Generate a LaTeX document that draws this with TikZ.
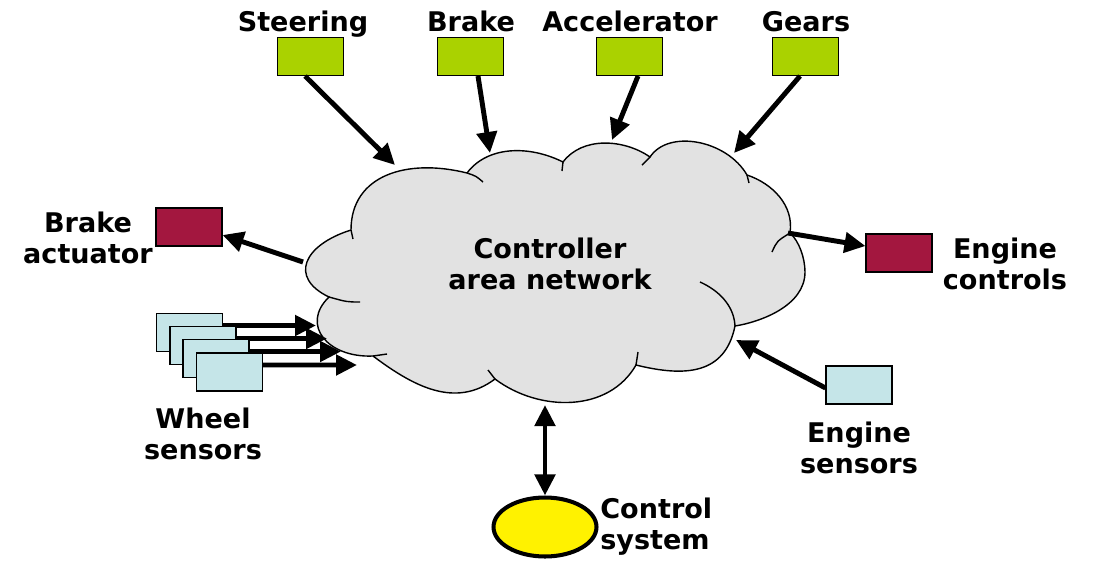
\documentclass[tikz,border=0pt]{standalone}
\usepackage{fontspec}
\setmainfont{DejaVu Sans}
\usetikzlibrary{arrows.meta,calc,shapes.geometric}
\definecolor{boxgreen}{RGB}{170,210,0}
\definecolor{boxred}{RGB}{163,23,63}
\definecolor{boxblue}{RGB}{197,229,232}
\definecolor{cloudgray}{RGB}{226,226,226}
\begin{document}
\begin{tikzpicture}[x=0.02cm,y=-0.02cm,
  lbl/.style={font=\fontsize{15.4pt}{17.6pt}\selectfont\bfseries, align=center, inner sep=0pt},
  unit/.style={draw=black, line width=0.6pt, minimum width=1.32cm, minimum height=0.76cm, inner sep=0pt},
  arr/.style={line width=2.8pt, -{Triangle[length=0.42cm,width=0.4cm]}},
  darr/.style={line width=2.8pt, {Triangle[length=0.42cm,width=0.4cm]}-{Triangle[length=0.42cm,width=0.4cm]}},
  cloudline/.style={draw=black, line width=0.8pt}
]
\useasboundingbox (0,0) rectangle (1096,562);

% cloud cusps
\coordinate (c1) at (351,230);
\coordinate (c2) at (467,173);
\coordinate (c3) at (563,162);
\coordinate (c4) at (650,157);
\coordinate (c5) at (747,175);
\coordinate (c6) at (790,233);
\coordinate (p6) at (805,272);
\coordinate (c7) at (735,326);
\coordinate (c8) at (636,365);
\coordinate (c9) at (495,379);
\coordinate (c10) at (373,356);
\coordinate (c11) at (329,297);

\draw[cloudline, fill=cloudgray]
 (c1) .. controls (351,175) and (407,158) .. (c2)
 .. controls (487.4,145.8) and (529,145) .. (c3)
 .. controls (582.2,136.4) and (623.8,138.8) .. (c4)
 .. controls (668.7,128.8) and (727,140.2) .. (c5)
 .. controls (772.2,183.4) and (794.2,205.3) .. (c6)
 .. controls (799,241) and (805,258) .. (p6)
 .. controls (805,306) and (760,322) .. (c7)
 .. controls (725,375) and (684.5,377) .. (c8)
 .. controls (608.5,412.9) and (539,412) .. (c9)
 .. controls (455,409) and (413,386) .. (c10)
 .. controls (328,358) and (300,325) .. (c11)
 .. controls (288.5,277.6) and (303.5,245) .. (c1) -- cycle;

% inner tails of the puffs
\draw[cloudline] (353,239) -- (c1);
\draw[cloudline] (c2) .. controls (476,176) .. (483,182);
\draw[cloudline] (562,171) -- (c3);
\draw[cloudline] (642,165) -- (c4);
\draw[cloudline] (c5) -- (749,183);
\draw[cloudline] (772,252) .. controls (777,241) .. (c6);
\draw[cloudline] (700,282) .. controls (718,290) and (734,305) .. (c7);
\draw[cloudline] (638,352) -- (c8);
\draw[cloudline] (c9) -- (488,370);
\draw[cloudline] (387,354) -- (c10);
\draw[cloudline] (360,302) .. controls (347,302) .. (c11);

\node[lbl] (can) at (550,263.5) {Controller\\area network};

% arrow end points on the cloud
\coordinate (asteer) at (395,165);
\coordinate (abrake) at (490,153);
\coordinate (aacc) at (612,140);
\coordinate (agear) at (734,153);
\coordinate (abact) at (303,262);
\coordinate (aectl) at (788,233);
\coordinate (aes) at (736,340);
\coordinate (aws1) at (316,325.5);
\coordinate (aws2) at (327,338.5);
\coordinate (aws3) at (341,351.5);
\coordinate (aws4) at (357,365);
\coordinate (acs) at (545,405);

% top units
\node[unit, fill=boxgreen] (steer) at (310.5,56.5) {};
\node[unit, fill=boxgreen] (brake) at (470.5,56.5) {};
\node[unit, fill=boxgreen] (acc) at (629.5,56.5) {};
\node[unit, fill=boxgreen] (gears) at (805.5,56.5) {};
\node[lbl, anchor=base] (steerl) at (303,31) {Steering};
\node[lbl, anchor=base] (brakel) at (471,31) {Brake};
\node[lbl, anchor=base] (accl) at (630,31) {Accelerator};
\node[lbl, anchor=base] (gearsl) at (806,31) {Gears};
\draw[arr] ([xshift=-0.11cm]steer.south) -- (asteer);
\draw[arr] ([xshift=0.15cm]brake.south) -- (abrake);
\draw[arr] ([xshift=0.17cm]acc.south) -- (aacc);
\draw[arr] ([xshift=-0.11cm]gears.south) -- (agear);

% brake actuator
\node[unit, fill=boxred] (bact) at (189,227) {};
\node[lbl] (bactl) at (88,237.5) {Brake\\actuator};
\draw[arr] (abact) -- ([yshift=-0.16cm]bact.east);

% engine controls
\node[unit, fill=boxred] (ectl) at (899,253) {};
\node[lbl] (ectll) at (1005,263.5) {Engine\\controls};
\draw[arr] (aectl) -- ([yshift=0.14cm]ectl.west);

% engine sensors
\node[unit, fill=boxblue] (esens) at (859,385) {};
\node[lbl] (esensl) at (859,447.5) {Engine\\sensors};
\draw[arr] ([yshift=-0.06cm]esens.west) -- (aes);

% wheel sensors
\node[unit, fill=boxblue] (w1) at (189.5,332.5) {};
\draw[arr] ([yshift=0.14cm]w1.east) -- (aws1);
\node[unit, fill=boxblue] (w2) at (203,345.5) {};
\draw[arr] ([yshift=0.14cm]w2.east) -- (aws2);
\node[unit, fill=boxblue] (w3) at (216,358.5) {};
\draw[arr] ([yshift=0.14cm]w3.east) -- (aws3);
\node[unit, fill=boxblue] (w4) at (229.5,372) {};
\draw[arr] ([yshift=0.14cm]w4.east) -- (aws4);
\node[lbl] (wsl) at (203,434) {Wheel\\sensors};

% control system
\node[ellipse, draw=black, line width=2.3pt, fill=yellow, minimum width=2.06cm, minimum height=1.18cm] (cs) at (545,527) {};
\node[lbl, align=left, anchor=west] (csl) at (600,527) {Control\\system};
\draw[darr] (acs) -- (cs.north);
\end{tikzpicture}
\end{document}
